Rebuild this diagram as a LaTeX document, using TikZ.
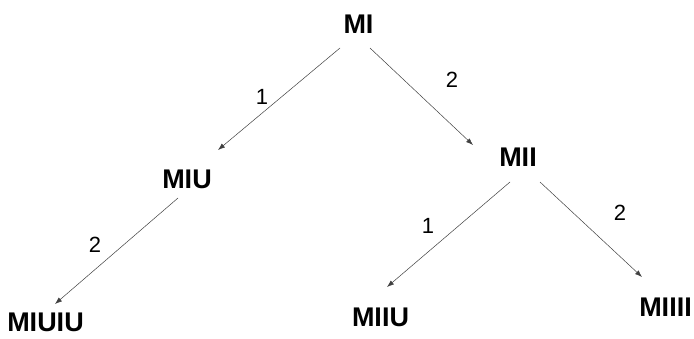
\documentclass[tikz,border=0pt]{standalone}
\usepackage{fontspec}
\setmainfont{Liberation Sans}
\usetikzlibrary{arrows.meta,calc}
\begin{document}
\begin{tikzpicture}[x=1pt,y=-1pt,
  word/.style={inner sep=0pt,font=\fontsize{27}{29}\selectfont\bfseries},
  rulenum/.style={inner sep=0pt,font=\fontsize{22}{24}\selectfont},
  derive/.style={draw=black!75,line width=0.5pt,-{Latex[length=7pt,width=5pt]}}]
\useasboundingbox (0,0) rectangle (694,339);
% strings of the MIU system
\node[word] (MI)    at (358.5,24)  {MI};
\node[word] (MIU)   at (187,179.5) {MIU};
\node[word] (MII)   at (518,157.5) {MII};
\node[word] (MIUIU) at (45.5,322)  {MIUIU};
\node[word] (MIIU)  at (380.5,317) {MIIU};
\node[word] (MIIII) at (665.5,307.5) {MIIII};
% rule applications
\draw[derive] ($(MI)+(-18.5,24)$) -- ($(MIU)+(31,-29.5)$);
\draw[derive] ($(MI)+(11.5,24)$) -- ($(MII)+(-45,-12.5)$);
\draw[derive] ($(MIU)+(-9,18.5)$) -- ($(MIUIU)+(9.5,-18)$);
\draw[derive] ($(MII)+(-8,24.5)$) -- ($(MIIU)+(6.5,-30)$);
\draw[derive] ($(MII)+(22,24.5)$) -- ($(MIIII)+(-23.5,-30.5)$);
% rule numbers
\node[rulenum] (r1) at (262,97)  {1};
\node[rulenum] (r2) at (452,80)  {2};
\node[rulenum] (r3) at (95,245)  {2};
\node[rulenum] (r4) at (428,226) {1};
\node[rulenum] (r5) at (620,213) {2};
\end{tikzpicture}
\end{document}
